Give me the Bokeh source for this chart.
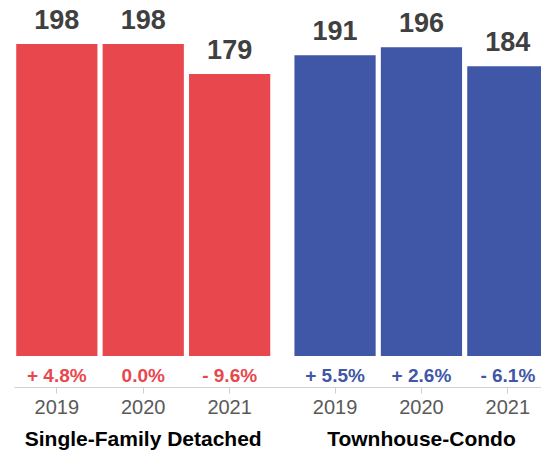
import numpy as np
from bokeh.plotting import figure
from bokeh.models import ColumnDataSource, Range1d, FixedTicker, LinearAxis
from bokeh.core.properties import value
from bokeh.embed import file_html
from bokeh.resources import INLINE

# ---- data ----
groups = ["Single-Family Detached", "Townhouse-Condo"]
years = ["2019", "2020", "2021"]
sfd_values = [198, 198, 179]
tc_values = [191, 196, 184]
sfd_pct = ["+ 4.8%", "0.0%", "- 9.6%"]
tc_pct = ["+ 5.5%", "+ 2.6%", "- 6.1%"]
group_colors = ["#E8474E", "#3F57A6"]

# ---- layout helpers (category -> position) ----
GAP = 0.22
FONT = value("Liberation Sans")

def pos(gi, yi):
    return gi * (len(years) + GAP) + yi + 0.5

xs, vals, pcts, cols, labels = [], [], [], [], {}
for gi, (gvals, gpct) in enumerate([(sfd_values, sfd_pct), (tc_values, tc_pct)]):
    for yi, yr in enumerate(years):
        x = pos(gi, yi)
        xs.append(x)
        vals.append(gvals[yi])
        pcts.append(gpct[yi])
        cols.append(group_colors[gi])
        labels[x] = yr

src = ColumnDataSource(dict(x=xs, v=vals, vt=[str(v) for v in vals], pct=pcts, c=cols,
                            zero=[0] * len(xs)))

group_centers = {pos(gi, 1): g for gi, g in enumerate(groups)}

p = figure(frame_width=527, frame_height=379, output_backend="svg", toolbar_location=None,
           x_range=Range1d(0.01, 0.01 + 527 / 86.4), y_range=Range1d(-19.95, 220.6),
           y_axis_location=None, min_border_left=14, min_border_right=0, min_border_top=8,
           min_border_bottom=0, outline_line_color=None, background_fill_color="white")
p.grid.visible = False

p.vbar(x="x", top="v", bottom=0, width=0.94, source=src, fill_color="c", line_color=None)

p.text(x="x", y="v", text="vt", source=src, text_font=FONT, text_font_size="27px",
       text_font_style="bold", text_color="#404040", text_align="center",
       text_baseline="alphabetic", y_offset=-25)

p.text(x="x", y="zero", text="pct", source=src, text_font=FONT, text_font_size="19px",
       text_font_style="bold", text_color="c", text_align="center",
       text_baseline="alphabetic", y_offset=19)

ax = p.xaxis[0]
ax.ticker = FixedTicker(ticks=xs)
ax.major_label_overrides = labels
ax.axis_line_color = "#D0D0D0"
ax.major_tick_line_color = "#D0D0D0"
ax.major_tick_out = 6
ax.major_tick_in = 0
ax.minor_tick_line_color = None
ax.major_label_standoff = 6
ax.major_label_text_font = "Liberation Sans"
ax.major_label_text_font_size = "20px"
ax.major_label_text_color = "#5A5A5A"

gax = LinearAxis(ticker=FixedTicker(ticks=list(group_centers.keys())),
                 major_label_overrides=group_centers)
gax.axis_line_color = None
gax.major_tick_line_color = None
gax.minor_tick_line_color = None
gax.major_label_standoff = 4
gax.major_label_text_font = "Liberation Sans"
gax.major_label_text_font_size = "21px"
gax.major_label_text_font_style = "bold"
gax.major_label_text_color = "#000000"
p.add_layout(gax, "below")

open("out.html", "w").write(file_html(p, INLINE))
